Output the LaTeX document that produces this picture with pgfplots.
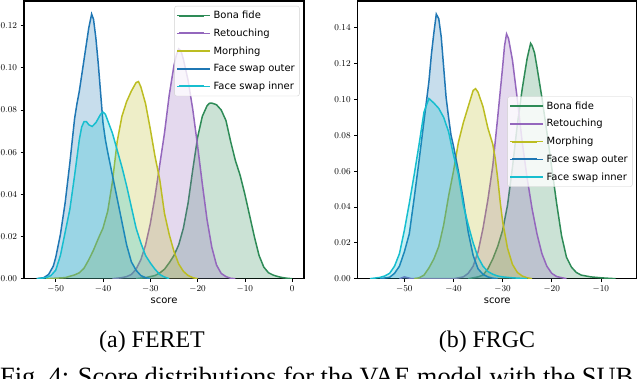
\documentclass[border=0pt]{standalone}
\usepackage{fontspec}
\setmainfont{DejaVu Sans}
\newfontfamily\capfont{Liberation Serif}
\usepackage{pgfplots}
\usepackage{pgfplotstable}
\pgfplotsset{compat=1.18}
\definecolor{cbona}{HTML}{2E8B57}
\definecolor{cret}{HTML}{9467BD}
\definecolor{cmorph}{HTML}{BCBD22}
\definecolor{couter}{HTML}{1F77B4}
\definecolor{cinner}{HTML}{17BECF}

% ---------- FERET ----------
\pgfplotstableread{
x y
-33 0
-31 0.0005
-29 0.0015
-28 0.0027
-27 0.0045
-26 0.0075
-25 0.011
-24 0.016
-23 0.024
-22 0.036
-21 0.052
-20 0.067
-19 0.077
-18 0.082
-17.5 0.0832
-17 0.0833
-16 0.0825
-15 0.080
-14 0.075
-13 0.065
-12 0.056
-11 0.049
-10 0.040
-9 0.030
-8 0.020
-7 0.011
-6 0.0055
-5 0.0028
-4 0.0017
-3 0.001
-2 0.0005
-1 0.0002
0 0
}\fbona
\pgfplotstableread{
x y
-38 0
-36 0.0005
-35 0.001
-34 0.002
-33 0.0045
-32 0.009
-31 0.016
-30 0.026
-29 0.039
-28 0.054
-27 0.069
-26 0.087
-25 0.101
-24.5 0.106
-24 0.109
-23.5 0.108
-23 0.104
-22 0.094
-21 0.080
-20 0.063
-19 0.045
-18 0.028
-17 0.015
-16 0.0065
-15 0.0025
-14 0.001
-13 0.0002
-12 0
}\fret
\pgfplotstableread{
x y
-52 0
-48 0.0005
-46 0.0018
-45 0.0028
-44 0.005
-43 0.009
-42 0.0136
-41 0.019
-40 0.024
-39 0.032
-38 0.046
-37 0.065
-36 0.077
-35 0.084
-34 0.089
-33 0.093
-32.5 0.0935
-32 0.091
-31 0.083
-30 0.071
-29 0.058
-28 0.047
-27 0.031
-26 0.021
-25 0.013
-24 0.007
-23 0.0035
-22 0.0015
-21 0.0005
-20 0
}\fmorph
\pgfplotstableread{
x y
-54 0
-52.5 0.0005
-51.5 0.002
-50.5 0.006
-50 0.010
-49 0.021
-48 0.036
-47 0.055
-46 0.076
-45.5 0.083
-45 0.089
-44 0.104
-43 0.119
-42.4 0.1255
-42 0.123
-41.5 0.114
-41 0.102
-40.5 0.088
-40 0.074
-39.5 0.066
-39 0.060
-38 0.049
-37 0.038
-36 0.027
-35 0.016
-34 0.008
-33 0.004
-32 0.0015
-31 0.0005
-30 0
}\fouter
\pgfplotstableread{
x y
-54 0
-52 0.0005
-51 0.0015
-50 0.004
-49 0.011
-48 0.022
-47 0.033
-46 0.049
-45 0.066
-44.5 0.072
-44 0.0745
-43.5 0.0745
-43 0.073
-42.3 0.0722
-41.5 0.074
-41 0.076
-40.5 0.078
-40 0.079
-39.5 0.078
-39 0.075
-38 0.069
-37 0.061
-36 0.053
-35 0.044
-34 0.034
-33 0.024
-32 0.017
-31 0.011
-30 0.0075
-29 0.0045
-28 0.002
-27 0.0008
-26 0
}\finner

% ---------- FRGC ----------
\pgfplotstableread{
x y
-37 0
-35 0.001
-34 0.002
-33 0.0055
-32 0.011
-31 0.018
-30 0.027
-29 0.041
-28 0.062
-27 0.086
-26 0.106
-25 0.123
-24.3 0.1313
-24 0.130
-23.5 0.126
-23 0.118
-22 0.101
-21 0.082
-20 0.062
-19 0.042
-18 0.024
-17 0.012
-16 0.0065
-15 0.0035
-14 0.002
-12 0.001
-10 0.0005
-7 0
}\gbona
\pgfplotstableread{
x y
-51 0
-50 0.001
-48.5 0
-40 0
-38 0.001
-37 0.003
-36 0.007
-35 0.015
-34 0.028
-33 0.044
-32 0.063
-31 0.090
-30 0.118
-29.6 0.130
-29.2 0.1365
-28.8 0.134
-28 0.122
-27 0.100
-26 0.076
-25 0.056
-24 0.039
-23 0.025
-22 0.014
-21 0.007
-20 0.003
-19 0.0012
-17 0
}\gret
\pgfplotstableread{
x y
-48 0
-47 0.0005
-46 0.002
-45 0.006
-44 0.011
-43 0.018
-42 0.030
-41 0.046
-40 0.060
-39 0.076
-38 0.087
-37 0.096
-36 0.105
-35.5 0.106
-35 0.104
-34 0.096
-33 0.084
-32 0.075
-31.5 0.067
-31 0.056
-30.5 0.043
-30 0.032
-29 0.017
-28 0.008
-27 0.0035
-26 0.0015
-25 0.0005
-24 0
}\gmorph
\pgfplotstableread{
x y
-55 0
-53 0.0008
-52 0.003
-51 0.007
-50 0.015
-49 0.025
-48 0.045
-47 0.066
-46 0.088
-45 0.110
-44.5 0.125
-44 0.137
-43.5 0.1476
-43 0.145
-42.5 0.135
-42 0.118
-41.5 0.101
-41 0.090
-40.5 0.080
-40 0.074
-39 0.060
-38 0.044
-37 0.026
-36 0.013
-35 0.0055
-34 0.0025
-33 0.001
-32 0.0003
-31 0
}\gouter
\pgfplotstableread{
x y
-57 0
-55 0.0007
-54 0.0015
-53 0.003
-52 0.007
-51 0.014
-50 0.027
-49 0.042
-48 0.058
-47 0.075
-46 0.093
-45 0.1005
-44 0.098
-43 0.095
-42 0.090
-41 0.082
-40 0.069
-39 0.058
-38 0.041
-37 0.030
-36 0.020
-35 0.012
-34 0.007
-33 0.004
-32 0.0025
-31 0.0015
-30 0.001
-28 0.0005
-25 0
}\ginner

\newcommand{\kde}[2]{%
  \addplot[fill=#2, fill opacity=0.25, draw=none, forget plot] table[x=x,y=y] {#1} \closedcycle;
  \addplot[#2, line width=1.5bp] table[x=x,y=y] {#1};
}

\pgfplotsset{
  kdeax/.style={
    scale only axis,
    anchor=south west,
    ymin=0,
    axis line style={line width=1.1bp, black},
    tick style={black, line width=0.7bp},
    major tick length=3.5bp,
    tick align=outside,
    xtick pos=bottom, ytick pos=left,
    tick label style={font=\fontsize{9}{10}\selectfont},
    yticklabel style={/pgf/number format/.cd, fixed, fixed zerofill, precision=2},
    scaled y ticks=false,
    xlabel={score},
    xlabel style={font=\fontsize{10}{12}\selectfont, yshift=1bp},
    legend cell align=left,
    legend image code/.code={%
      \path (-2bp,0bp) -- (31bp,0bp);
      \draw[##1, line width=2bp, fill=none] (0bp,0bp) -- (25bp,0bp);},
    legend style={
      draw=black!18, rounded corners=2bp, fill=white, fill opacity=0.8, text opacity=1,
      font=\fontsize{10}{12}\selectfont,
      inner xsep=2bp, inner ysep=1.5bp,
      nodes={inner sep=2.5bp, text height=8.5bp, text depth=2.5bp},
      row sep=1.7bp,
    },
  }
}

\begin{document}
\begin{tikzpicture}
\clip (0bp,0bp) rectangle (640bp,379bp);
\begin{axis}[kdeax,
  at={(24bp,100.3bp)}, width=280bp, height=277.7bp,
  xmin=-56.7, xmax=2.5, ymax=0.1317,
  xtick={-50,-40,-30,-20,-10,0},
  ytick={0,0.02,0.04,0.06,0.08,0.10,0.12},
  legend style={at={(rel axis cs:0.984,0.982)}, anchor=north east},
]
\kde{\fbona}{cbona}
\kde{\fret}{cret}
\kde{\fmorph}{cmorph}
\kde{\fouter}{couter}
\kde{\finner}{cinner}
\legend{Bona fide, Retouching, Morphing, Face swap outer, Face swap inner}
\end{axis}
\begin{axis}[kdeax,
  at={(357.7bp,100.3bp)}, width=279bp, height=277.7bp,
  xmin=-59.5, xmax=-2.7, ymax=0.1549,
  xtick={-50,-40,-30,-20,-10},
  ytick={0,0.02,0.04,0.06,0.08,0.10,0.12,0.14},
  legend style={at={(rel axis cs:0.985,0.656)}, anchor=north east},
]
\kde{\gbona}{cbona}
\kde{\gret}{cret}
\kde{\gmorph}{cmorph}
\kde{\gouter}{couter}
\kde{\ginner}{cinner}
\legend{Bona fide, Retouching, Morphing, Face swap outer, Face swap inner}
\end{axis}
\node[anchor=base, font=\capfont\fontsize{24}{28}\selectfont, inner sep=0pt] at (152bp,32bp) {(a) FERET};
\node[anchor=base, font=\capfont\fontsize{24}{28}\selectfont, inner sep=0pt] at (487bp,32bp) {(b) FRGC};
\node[anchor=base west, font=\capfont\fontsize{26.5}{30}\selectfont, inner sep=0pt] at (0bp,-6bp) {Fig.\ 4: Score distributions for the VAE model with the SUB};
\end{tikzpicture}
\end{document}
